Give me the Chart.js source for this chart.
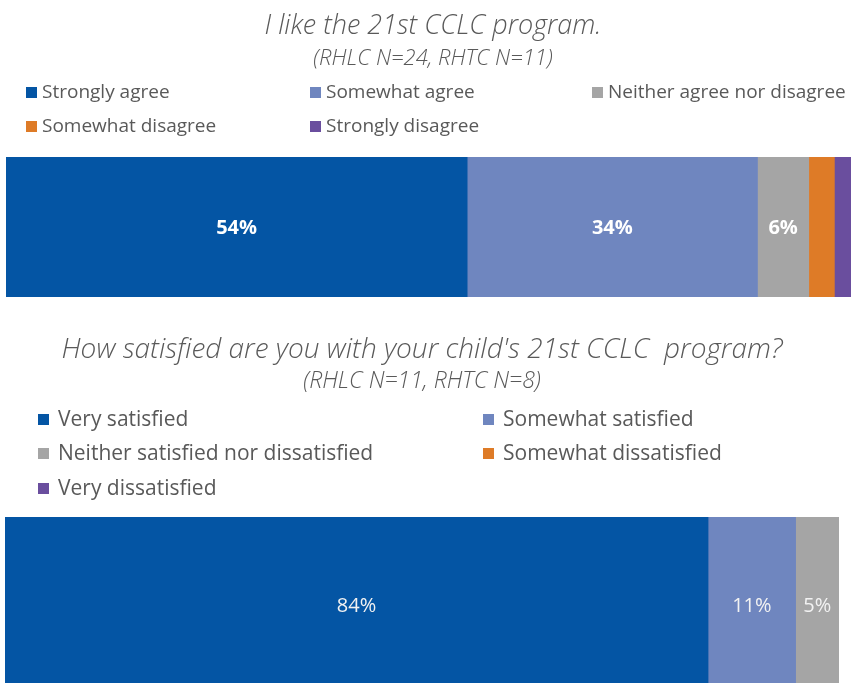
<!DOCTYPE html>
<html>
<head>
<meta charset="utf-8">
<script src="https://cdn.jsdelivr.net/npm/chart.js@4/dist/chart.umd.min.js"></script>
<style>
  html, body { margin: 0; padding: 0; background: #fff; overflow: hidden; }
  body { width: 851px; height: 683px; position: relative; }
  #likeChart { position: absolute; left: 0; top: 0; }
  #satChart { position: absolute; left: 0; top: 310px; }
</style>
</head>
<body>
<canvas id="likeChart" width="860" height="310"></canvas>
<canvas id="satChart" width="839" height="383"></canvas>
<script>
// chart 1 - "I like the 21st CCLC program."
var likeTitle = 'I like the 21st CCLC program.';
var likeSubtitle = '(RHLC N=24, RHTC N=11)';
var likeLabels = ['Strongly agree', 'Somewhat agree', 'Neither agree nor disagree', 'Somewhat disagree', 'Strongly disagree'];
var likeValues = [54, 34, 6, 3, 3];

// chart 2 - satisfaction
var satTitle = "How satisfied are you with your child's 21st CCLC  program?";
var satSubtitle = '(RHLC N=11, RHTC N=8)';
var satLabels = ['Very satisfied', 'Somewhat satisfied', 'Neither satisfied nor dissatisfied', 'Somewhat dissatisfied', 'Very dissatisfied'];
var satValues = [84.3, 10.5, 5.2, 0, 0];

var colors = ['#0455A4', '#6F86BF', '#A5A5A5', '#DE7B27', '#6A4E9E'];
var FONT = '"Open Sans", "Noto Sans", sans-serif';

// legend laid out in fixed columns, added as its own layout box
var gridLegend = {
  id: 'gridLegend',
  start: function(chart) {
    var box = {
      position: 'top',
      weight: 1000,
      fullSize: true,
      options: {},
      isHorizontal: function() { return true; },
      update: function(maxWidth) {
        this.width = maxWidth;
        this.height = chart.options.plugins.gridLegend.height;
      },
      draw: function() {
        var o = chart.options.plugins.gridLegend;
        var ctx = chart.ctx;
        var top = this.top;
        ctx.save();
        ctx.font = o.fontSize + 'px ' + FONT;
        ctx.textBaseline = 'middle';
        ctx.textAlign = 'left';
        chart.data.datasets.forEach(function(ds, i) {
          var col = i % o.columns.length;
          var row = Math.floor(i / o.columns.length);
          var x = o.columns[col];
          var y = top + o.firstRow + row * o.rowHeight;
          ctx.fillStyle = ds.backgroundColor;
          ctx.fillRect(x, Math.round(y - o.boxSize / 2), o.boxSize, o.boxSize);
          ctx.fillStyle = '#595959';
          ctx.fillText(ds.label, x + o.boxSize + o.gap, y + 1);
        });
        ctx.restore();
      }
    };
    Chart.layouts.addBox(chart, box);
  }
};

// percentage labels in the middle of each segment
var segmentLabels = {
  id: 'segmentLabels',
  afterDatasetsDraw: function(chart) {
    var o = chart.options.plugins.segmentLabels;
    var ctx = chart.ctx;
    ctx.save();
    ctx.font = o.weight + ' ' + o.fontSize + 'px ' + FONT;
    ctx.fillStyle = o.color;
    ctx.textAlign = 'center';
    ctx.textBaseline = 'middle';
    chart.data.datasets.forEach(function(ds, i) {
      var v = ds.data[0];
      if (v < o.min) return;
      var bar = chart.getDatasetMeta(i).data[0];
      ctx.fillText(Math.round(v) + '%', (bar.x + bar.base) / 2, bar.y + 1);
    });
    ctx.restore();
  }
};

function makeChart(canvas, labels, values, title, subtitle, opts) {
  var datasets = labels.map(function(lab, i) {
    return {
      label: lab,
      data: [values[i]],
      backgroundColor: colors[i],
      borderWidth: 0,
      barPercentage: 1,
      categoryPercentage: 1
    };
  });
  return new Chart(canvas, {
    type: 'bar',
    data: { labels: [''], datasets: datasets },
    plugins: [gridLegend, segmentLabels],
    options: {
      indexAxis: 'y',
      responsive: false,
      animation: false,
      layout: { padding: opts.padding },
      scales: {
        x: { stacked: true, min: 0, max: 100, display: false },
        y: { stacked: true, display: false }
      },
      plugins: {
        legend: { display: false },
        tooltip: { enabled: false },
        title: {
          display: true,
          text: title,
          color: '#595959',
          font: { family: FONT, size: opts.titleSize, style: 'italic', weight: '300', lineHeight: opts.titleLine + 'px' },
          padding: { top: opts.titleTop, bottom: 0 }
        },
        subtitle: {
          display: true,
          text: subtitle,
          color: '#595959',
          font: { family: FONT, size: opts.subSize, style: 'italic', weight: '300', lineHeight: opts.subLine + 'px' },
          padding: { top: opts.subTop, bottom: 0 }
        },
        gridLegend: opts.legend,
        segmentLabels: opts.labels
      }
    }
  });
}

makeChart(document.getElementById('likeChart'), likeLabels, likeValues, likeTitle, likeSubtitle, {
  padding: { left: 6, right: 0, top: 0, bottom: 13 },
  titleSize: 27, titleLine: 32, titleTop: 10,
  subSize: 22, subLine: 26, subTop: 4,
  legend: { height: 85, columns: [26, 310, 592], firstRow: 20, rowHeight: 34, boxSize: 11, gap: 5, fontSize: 19 },
  labels: { min: 4, fontSize: 20, weight: 'bold', color: '#ffffff' }
});

makeChart(document.getElementById('satChart'), satLabels, satValues, satTitle, satSubtitle, {
  padding: { left: 5, right: 0, top: 0, bottom: 0 },
  titleSize: 28, titleLine: 34, titleTop: 23,
  subSize: 23, subLine: 28, subTop: 0,
  legend: { height: 122, columns: [38, 483], firstRow: 24, rowHeight: 34.5, boxSize: 11, gap: 9, fontSize: 21 },
  labels: { min: 4, fontSize: 20, weight: 'normal', color: '#F2F2F2' }
});
</script>
</body>
</html>
